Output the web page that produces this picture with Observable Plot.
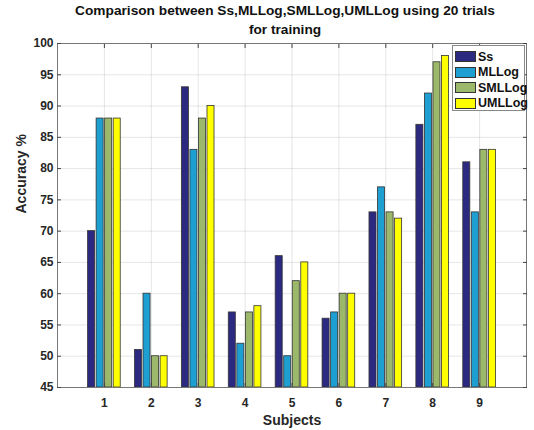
<!DOCTYPE html>
<html>
<head>
<meta charset="utf-8">
<script src="https://cdn.jsdelivr.net/npm/d3@7"></script>
<script src="https://cdn.jsdelivr.net/npm/@observablehq/plot@0.6"></script>
<style>
  body { margin: 0; background: #fff; font-family: "Liberation Sans", Arial, sans-serif; }
  #wrap { position: relative; width: 534px; height: 430px; }
  #title { position: relative; z-index: 2; box-sizing: border-box; width: 534px; height: 34px; padding: 2px 0 0 36px; text-align: center;
           font-weight: bold; font-size: 13.7px; line-height: 18.5px; color: #111; white-space: nowrap; }
  #chart svg { background: transparent !important; }
  #legend { position: absolute; left: 452px; top: 45px; width: 73px; height: 66px; background: #fff;
            border: 1px solid #888; box-sizing: border-box; padding: 3px 0 0 2px; z-index: 3; }
  .row { display: flex; align-items: center; height: 15.5px; font-weight: bold; font-size: 12.5px; color: #111; }
  .sw { width: 21px; height: 11px; border: 1px solid #333; margin-right: 2px; box-sizing: border-box; flex: none; }
</style>
</head>
<body>
<div id="wrap">
  <div id="title">Comparison between Ss,MLLog,SMLLog,UMLLog using 20 trials<br>for training</div>
  <div id="chart"></div>
  <div id="legend"></div>
</div>
<script>
const subjects = [1, 2, 3, 4, 5, 6, 7, 8, 9];
const seriesNames = ["Ss", "MLLog", "SMLLog", "UMLLog"];
const ss     = [70, 51, 93, 57, 66, 56, 73, 87, 81];
const mllog  = [88, 60, 83, 52, 50, 57, 77, 92, 73];
const smllog = [88, 50, 88, 57, 62, 60, 73, 97, 83];
const umllog = [88, 50, 90, 58, 65, 60, 72, 98, 83];
const yTicks = [45, 50, 55, 60, 65, 70, 75, 80, 85, 90, 95, 100];
const colors = ["#2c2a80", "#1d9fd2", "#9cb96b", "#ffff00"];

const seriesValues = [ss, mllog, smllog, umllog];
const step = 0.182, barW = 0.15;
const data = [];
seriesValues.forEach((vals, k) => {
  vals.forEach((v, i) => {
    const c = subjects[i] + (k - 1.5) * step;
    data.push({subject: subjects[i], series: seriesNames[k], value: v, x1: c - barW / 2, x2: c + barW / 2});
  });
});

const chart = Plot.plot({
  width: 534,
  height: 396,
  marginLeft: 57,
  marginRight: 8,
  marginTop: 9,
  marginBottom: 43,
  style: {fontFamily: "Liberation Sans, Arial, sans-serif", fontSize: "12px", fontWeight: "bold", color: "#262626", background: "transparent"},
  x: {domain: [0, 10]},
  y: {domain: [45, 100]},
  color: {domain: seriesNames, range: colors},
  marks: [
    Plot.gridX(subjects, {stroke: "#000", strokeOpacity: 0.1}),
    Plot.gridY(yTicks, {stroke: "#000", strokeOpacity: 0.1}),
    Plot.rect(data, {x1: "x1", x2: "x2", y1: 45, y2: "value", fill: "series", stroke: "#333", strokeWidth: 0.8}),
    Plot.frame({stroke: "#777"}),
    Plot.axisX(subjects, {anchor: "bottom", tickSize: -4, tickPadding: 15, tickFormat: d => d, label: null, stroke: "#444"}),
    Plot.axisX(subjects, {anchor: "top", tickSize: -4, tickFormat: () => "", label: null, stroke: "#444"}),
    Plot.axisY(yTicks, {anchor: "left", tickSize: -4, tickPadding: 8, label: null, stroke: "#444"}),
    Plot.axisY(yTicks, {anchor: "right", tickSize: -4, tickFormat: () => "", label: null, stroke: "#444"}),
    Plot.text(["Subjects"], {frameAnchor: "bottom", dy: 37, fontSize: 14, fontWeight: "bold", fill: "#262626"}),
    Plot.text(["Accuracy %"], {frameAnchor: "left", rotate: -90, dx: -36, dy: -2, fontSize: 14, fontWeight: "bold", fill: "#262626"})
  ]
});
document.getElementById("chart").appendChild(chart);

const legend = document.getElementById("legend");
seriesNames.forEach((name, k) => {
  const row = document.createElement("div");
  row.className = "row";
  const sw = document.createElement("div");
  sw.className = "sw";
  sw.style.background = colors[k];
  row.appendChild(sw);
  row.appendChild(document.createTextNode(name));
  legend.appendChild(row);
});
</script>
</body>
</html>
